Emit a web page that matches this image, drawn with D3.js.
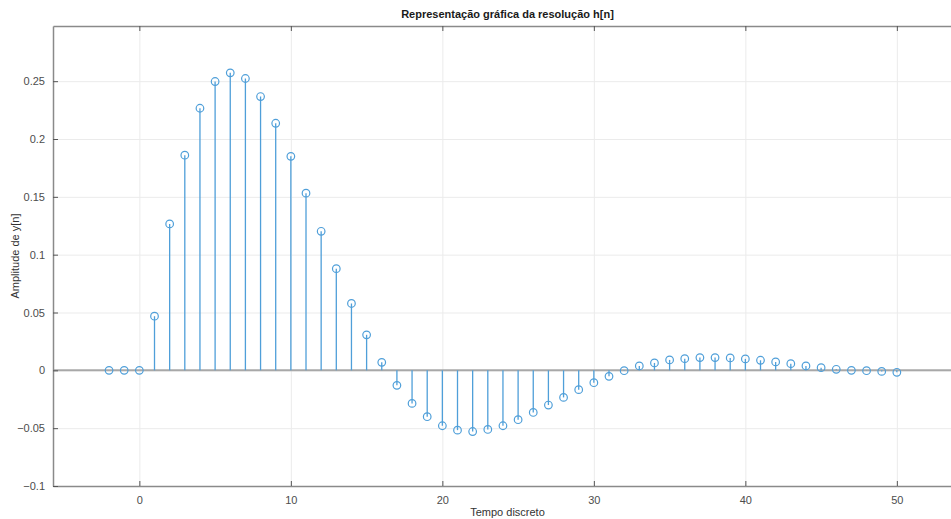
<!DOCTYPE html>
<head>
<meta charset="utf-8">
<title>Resolução h[n]</title>
<script src="https://d3js.org/d3.v7.min.js"></script>
<style>
body { margin: 0; background: #fff; }
text { font-family: "Liberation Sans", Arial, sans-serif; }
</style>
</head>
<body>
<div id="container"></div>
<script>
//----------------------------DATA------------------------------//
const nValues = d3.range(-2, 51);
const hValues = [
  0, 0, 0,
  0.0468, 0.1266, 0.1860, 0.2266, 0.2497, 0.2572, 0.2523, 0.2367, 0.2136, 0.1850,
  0.1532, 0.1202, 0.0879, 0.0578, 0.0307, 0.0069,
  -0.0130, -0.0286, -0.0401, -0.0479, -0.0517, -0.0529, -0.0511, -0.0479, -0.0427,
  -0.0364, -0.0300, -0.0234, -0.0167, -0.0107, -0.0052, -0.0003,
  0.0038, 0.0064, 0.0090, 0.0101, 0.0110, 0.0110, 0.0107, 0.0099, 0.0087, 0.0073,
  0.0058, 0.0038, 0.0023, 0.0009, 0.0000, -0.0003, -0.0009, -0.0017
];
const xTicks = [0, 10, 20, 30, 40, 50];
const yTicks = [-0.1, -0.05, 0, 0.05, 0.1, 0.15, 0.2, 0.25];

const points = nValues.map((n, i) => ({n: n, v: hValues[i]}));

//-----------------------------SVG------------------------------//
const width = 951;
const height = 519;
const plot = {left: 53, right: 962, top: 26, bottom: 486};

const svg = d3.select("#container").append("svg")
    .attr("width", width)
    .attr("height", height);

//----------------------------SCALES----------------------------//
const xScale = d3.scaleLinear()
    .domain([-5.7, 54.3])
    .range([plot.left, plot.right]);
const yScale = d3.scaleLinear()
    .domain([-0.1, 0.2977])
    .range([plot.bottom, plot.top]);

//----------------------------GRIDS-----------------------------//
const grid = svg.append("g").attr("class", "grid-lines")
    .attr("stroke", "#ebebeb").attr("stroke-width", 1);
grid.selectAll("line.gx").data(xTicks).join("line")
    .attr("class", "gx")
    .attr("x1", d => xScale(d) + 0.5).attr("x2", d => xScale(d) + 0.5)
    .attr("y1", plot.top).attr("y2", plot.bottom);
grid.selectAll("line.gy").data(yTicks).join("line")
    .attr("class", "gy")
    .attr("x1", plot.left).attr("x2", plot.right)
    .attr("y1", d => yScale(d) + 0.5).attr("y2", d => yScale(d) + 0.5);

// zero baseline of the stem plot
svg.append("line")
    .attr("x1", plot.left).attr("x2", plot.right)
    .attr("y1", yScale(0)).attr("y2", yScale(0))
    .attr("stroke", "#a8a8a8").attr("stroke-width", 2);

//-----------------------------AXES-----------------------------//
const xAxisB = d3.axisBottom(xScale).tickValues(xTicks).tickSizeInner(-5).tickSizeOuter(0).tickPadding(10);
const xAxisT = d3.axisTop(xScale).tickValues(xTicks).tickSizeInner(-5).tickSizeOuter(0).tickFormat("");
const yAxisL = d3.axisLeft(yScale).tickValues(yTicks).tickSizeInner(-5).tickSizeOuter(0).tickPadding(8)
    .tickFormat(d => d3.format("")(+d.toFixed(2)));

function styleAxis(g) {
  g.select(".domain").attr("stroke", "#8a8a8a").attr("stroke-width", 1.5);
  g.selectAll(".tick line").attr("stroke", "#555").attr("stroke-width", 1);
  g.selectAll(".tick text").attr("fill", "#4d4d4d").style("font-size", "11px")
    .style("font-family", "Liberation Sans, Arial, sans-serif");
}

svg.append("g").attr("transform", "translate(0," + plot.bottom + ")").call(xAxisB).call(styleAxis);
svg.append("g").attr("transform", "translate(0," + plot.top + ")").call(xAxisT).call(styleAxis);
svg.append("g").attr("transform", "translate(" + plot.left + ",0)").call(yAxisL).call(styleAxis);

//----------------------------STEMS-----------------------------//
const stemColor = "#4f9fd9";
svg.append("g").selectAll("line").data(points).join("line")
    .attr("x1", d => xScale(d.n)).attr("x2", d => xScale(d.n))
    .attr("y1", yScale(0)).attr("y2", d => yScale(d.v))
    .attr("stroke", stemColor).attr("stroke-width", 1.3);

svg.append("g").selectAll("circle").data(points).join("circle")
    .attr("cx", d => xScale(d.n)).attr("cy", d => yScale(d.v))
    .attr("r", 3.8)
    .attr("fill", "none")
    .attr("stroke", stemColor).attr("stroke-width", 1.2);

//----------------------------LABELS----------------------------//
svg.append("text")
    .attr("x", (plot.left + plot.right) / 2).attr("y", 18)
    .attr("text-anchor", "middle")
    .style("font-size", "11px").style("font-weight", "bold")
    .attr("fill", "#1a1a1a")
    .text("Representação gráfica da resolução h[n]");

svg.append("text")
    .attr("x", (plot.left + plot.right) / 2).attr("y", 516)
    .attr("text-anchor", "middle")
    .style("font-size", "11px")
    .attr("fill", "#333")
    .text("Tempo discreto");

svg.append("text")
    .attr("transform", "translate(19," + ((plot.top + plot.bottom) / 2) + ") rotate(-90)")
    .attr("text-anchor", "middle")
    .style("font-size", "11px")
    .attr("fill", "#333")
    .text("Amplitude de y[n]");
</script>
</body>
